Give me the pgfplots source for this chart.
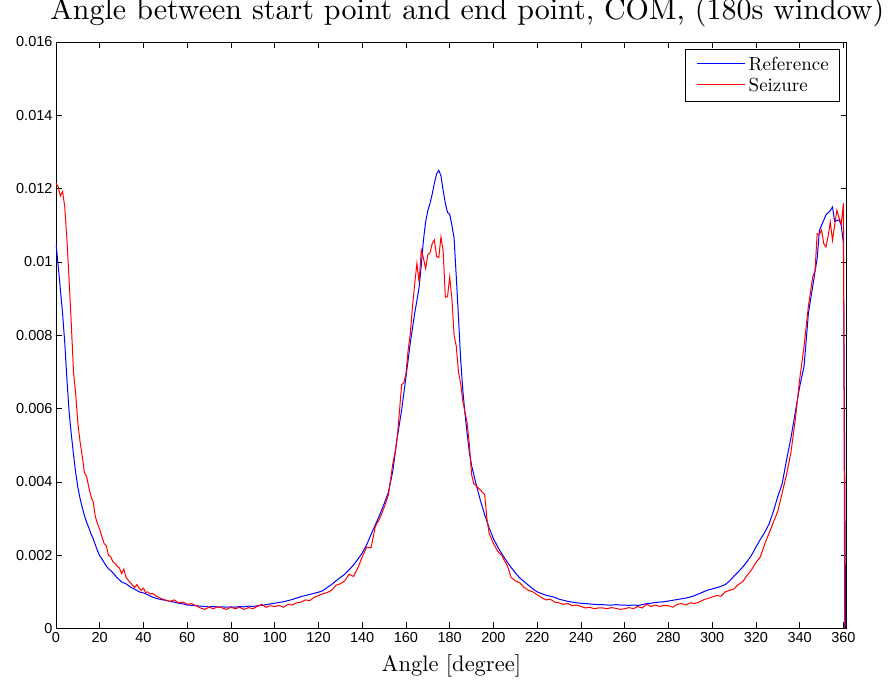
\documentclass[border=0pt]{standalone}
\usepackage{fontspec}
\setmainfont{lmroman10-regular.otf}
\usepackage{pgfplots}
\pgfplotsset{compat=1.18}
\newfontfamily\ticksf{Liberation Sans}

\pgfplotstableread{
x y
0 0.01050
1 0.00990
2 0.00925
3 0.00860
4 0.00780
5 0.00680
6 0.00590
7 0.00530
8 0.00475
9 0.00425
10 0.00385
11 0.00355
12 0.00330
13 0.00308
14 0.00290
15 0.00275
16 0.00258
17 0.00245
18 0.00228
19 0.00212
20 0.00198
21 0.00190
22 0.00180
23 0.00170
24 0.00163
25 0.00158
26 0.00152
27 0.00145
28 0.00138
30 0.00127
32 0.00122
34 0.00113
36 0.00107
38 0.00100
40 0.00097
42 0.00092
44 0.00086
46 0.00082
48 0.00079
50 0.00077
52 0.00074
54 0.00072
56 0.00069
58 0.00067
60 0.00064
62 0.00063
64 0.00062
66 0.00061
68 0.00060
70 0.00059
72 0.00060
74 0.00058
76 0.00059
78 0.00058
80 0.00059
82 0.00058
84 0.00060
86 0.00059
88 0.00061
90 0.00060
92 0.00062
94 0.00063
96 0.00065
98 0.00067
100 0.00069
102 0.00071
104 0.00073
106 0.00076
108 0.00079
110 0.00083
112 0.00087
114 0.00090
116 0.00093
118 0.00096
120 0.00099
122 0.00103
124 0.00112
126 0.00120
128 0.00130
130 0.00139
132 0.00148
134 0.00160
136 0.00173
138 0.00189
140 0.00206
142 0.00228
144 0.00256
146 0.00283
148 0.00310
150 0.00340
152 0.00372
154 0.00430
156 0.00520
158 0.00595
160 0.00686
162 0.00780
164 0.00860
166 0.00930
167 0.00990
168 0.01060
169 0.01110
170 0.01140
171 0.01160
172 0.01185
173 0.01215
174 0.01240
175 0.01250
176 0.01235
177 0.01195
178 0.01160
179 0.01135
180 0.01130
181 0.01100
182 0.01065
183 0.00960
184 0.00850
185 0.00735
186 0.00650
187 0.00585
188 0.00530
189 0.00480
190 0.00445
192 0.00395
194 0.00350
196 0.00310
198 0.00275
200 0.00245
202 0.00222
204 0.00202
206 0.00184
208 0.00167
210 0.00152
212 0.00138
214 0.00128
216 0.00118
218 0.00108
220 0.00100
222 0.00095
224 0.00091
226 0.00088
228 0.00085
230 0.00080
232 0.00077
234 0.00074
236 0.00072
238 0.00070
240 0.00069
242 0.00068
244 0.00067
246 0.00066
248 0.00065
250 0.00065
252 0.00064
254 0.00064
256 0.00065
258 0.00064
260 0.00064
262 0.00063
264 0.00064
266 0.00063
268 0.00065
270 0.00068
272 0.00069
274 0.00071
276 0.00072
278 0.00073
280 0.00075
282 0.00077
284 0.00079
286 0.00081
288 0.00083
290 0.00086
292 0.00090
294 0.00095
296 0.00100
298 0.00105
300 0.00108
302 0.00111
304 0.00115
306 0.00120
308 0.00130
310 0.00143
312 0.00155
314 0.00168
316 0.00183
318 0.00200
320 0.00222
322 0.00243
324 0.00262
326 0.00285
328 0.00320
330 0.00360
332 0.00395
334 0.00460
336 0.00520
338 0.00590
340 0.00660
342 0.00715
344 0.00860
346 0.00935
348 0.01010
349 0.01085
350 0.01100
352 0.01128
354 0.01140
355 0.01150
356 0.01110
358 0.01115
359 0.01100
360 0.01050
361 0.00000
}\refdata

\pgfplotstableread{
x y
0 0.01215
1 0.01205
2 0.01180
3 0.01192
4 0.01150
5 0.01060
6 0.00950
7 0.00830
8 0.00700
9 0.00640
10 0.00560
11 0.00510
12 0.00470
13 0.00425
14 0.00415
15 0.00385
16 0.00360
17 0.00345
18 0.00305
19 0.00285
20 0.00270
21 0.00250
22 0.00232
23 0.00225
24 0.00200
25 0.00196
26 0.00182
27 0.00178
28 0.00170
29 0.00165
30 0.00150
31 0.00162
32 0.00140
33 0.00132
34 0.00125
35 0.00118
36 0.00112
37 0.00120
38 0.00110
39 0.00104
40 0.00110
41 0.00098
42 0.00100
43 0.00094
44 0.00096
46 0.00088
48 0.00082
50 0.00078
52 0.00074
54 0.00078
56 0.00070
58 0.00072
60 0.00066
62 0.00068
64 0.00062
66 0.00056
68 0.00052
70 0.00058
72 0.00054
74 0.00060
76 0.00056
78 0.00052
80 0.00058
82 0.00054
84 0.00058
86 0.00052
88 0.00057
90 0.00054
92 0.00060
94 0.00066
96 0.00058
98 0.00062
100 0.00060
102 0.00063
104 0.00058
106 0.00066
108 0.00064
110 0.00070
112 0.00072
114 0.00078
116 0.00076
118 0.00085
120 0.00090
122 0.00095
124 0.00098
126 0.00104
128 0.00118
130 0.00122
132 0.00130
134 0.00148
136 0.00142
138 0.00165
140 0.00195
142 0.00222
144 0.00220
146 0.00278
148 0.00300
150 0.00330
152 0.00365
154 0.00450
155 0.00480
156 0.00520
157 0.00590
158 0.00665
159 0.00670
160 0.00695
161 0.00760
162 0.00805
163 0.00880
164 0.00940
165 0.00996
166 0.00945
167 0.01032
168 0.01010
169 0.00982
170 0.01020
171 0.01025
172 0.01050
173 0.01060
174 0.01015
175 0.01012
176 0.01068
177 0.01030
178 0.00904
179 0.00905
180 0.00959
181 0.00900
182 0.00800
183 0.00770
184 0.00700
185 0.00668
186 0.00620
187 0.00590
188 0.00560
189 0.00500
190 0.00420
191 0.00395
192 0.00390
194 0.00378
196 0.00365
197 0.00300
198 0.00260
200 0.00232
202 0.00210
204 0.00198
205 0.00185
206 0.00176
207 0.00160
208 0.00140
210 0.00130
212 0.00125
214 0.00112
216 0.00104
218 0.00100
220 0.00092
222 0.00084
224 0.00078
226 0.00080
228 0.00072
230 0.00070
232 0.00066
234 0.00068
236 0.00062
238 0.00064
240 0.00060
242 0.00056
244 0.00058
246 0.00054
248 0.00056
250 0.00056
252 0.00054
254 0.00057
256 0.00055
258 0.00052
260 0.00054
262 0.00057
264 0.00054
266 0.00060
268 0.00056
270 0.00066
272 0.00060
274 0.00064
276 0.00060
278 0.00063
280 0.00062
282 0.00058
284 0.00066
286 0.00068
288 0.00064
290 0.00070
292 0.00068
294 0.00072
296 0.00078
298 0.00082
300 0.00086
302 0.00090
304 0.00088
306 0.00100
308 0.00104
310 0.00108
312 0.00120
314 0.00128
316 0.00145
318 0.00160
320 0.00180
322 0.00195
324 0.00230
326 0.00260
328 0.00290
330 0.00320
332 0.00370
334 0.00420
336 0.00480
338 0.00570
340 0.00680
342 0.00770
344 0.00880
346 0.00960
347 0.00975
348 0.01077
349 0.01075
350 0.01087
351 0.01050
352 0.01041
353 0.01070
354 0.01109
355 0.01059
356 0.01100
357 0.01141
358 0.01120
359 0.01105
360 0.01160
360.6 0.00000
}\seizdata

\begin{document}
\begin{tikzpicture}
\useasboundingbox (-56pt,-55.5pt) rectangle (836pt,628.5pt);
\begin{axis}[
  at={(0pt,0pt)}, anchor=south west,
  scale only axis, width=790.7pt, height=586.5pt,
  xmin=0, xmax=361.5, ymin=0, ymax=0.016,
  xtick={0,20,...,360},
  ytick={0,0.002,...,0.016},
  scaled y ticks=false,
  yticklabel style={/pgf/number format/fixed, /pgf/number format/precision=3},
  /pgf/number format/assume math mode=true,
  tick label style={font=\ticksf\fontsize{14.5}{16}\selectfont, black},
  tick align=inside,
  major tick length=6pt,
  every tick/.style={black, line width=0.6pt},
  axis line style={black, line width=0.8pt},
  title={\fontsize{30}{34}\selectfont Angle between start point and end point, COM, (180s window)},
  title style={at={(0.5,1)}, anchor=base, yshift=16pt, xshift=16pt, inner sep=0pt},
  xlabel={\fontsize{22.5}{26}\selectfont Angle [degree]},
  xlabel style={at={(0.5,0)}, anchor=base, yshift=-43pt, inner sep=0pt},
  legend style={at={(1,1)}, anchor=north east, xshift=-6.7pt, yshift=-7pt,
    line width=0.6pt, font=\fontsize{19}{20}\selectfont,
    inner xsep=9pt, inner ysep=6pt, row sep=2pt, column sep=0pt,
    legend cell align=left},
  legend image code/.code={},
]
\addplot[blue, line width=1pt] table[x=x,y=y] {\refdata};
\addlegendentry{\textcolor{blue}{\rule[6.5pt]{48pt}{1pt}}\hspace{4pt}Reference}
\addplot[red, line width=1pt] table[x=x,y=y] {\seizdata};
\addlegendentry{\textcolor{red}{\rule[6.5pt]{48pt}{1pt}}\hspace{4pt}Seizure}
\end{axis}
\end{tikzpicture}
\end{document}
